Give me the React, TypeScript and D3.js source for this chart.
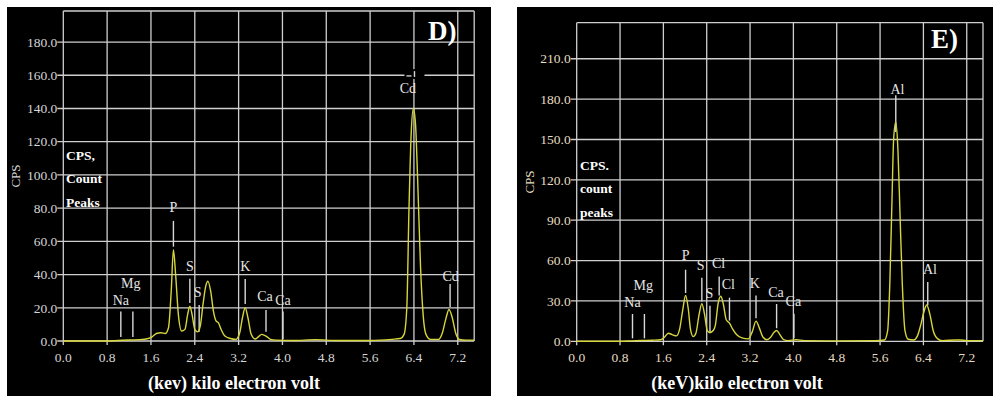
import React from 'react';
import * as d3 from 'd3';

// tick values shared by both spectra
const keVTicks = [0, 0.8, 1.6, 2.4, 3.2, 4.0, 4.8, 5.6, 6.4, 7.2];
const cpsTicksD = [0, 20, 40, 60, 80, 100, 120, 140, 160, 180];
const cpsTicksE = [0, 30, 60, 90, 120, 150, 180, 210];

// spectrum D
const energyD = [0, 0.8, 1.0, 1.2, 1.4, 1.55, 1.62, 1.7, 1.78, 1.86, 1.92, 1.97, 2.01, 2.05, 2.1, 2.16, 2.22, 2.27, 2.31, 2.35, 2.4, 2.45, 2.5, 2.55, 2.6, 2.64, 2.69, 2.74, 2.79, 2.83, 2.88, 2.95, 3.05, 3.15, 3.22, 3.27, 3.32, 3.37, 3.43, 3.5, 3.56, 3.62, 3.7, 3.78, 3.88, 4.2, 4.6, 5.0, 5.6, 6.0, 6.15, 6.22, 6.27, 6.31, 6.35, 6.39, 6.43, 6.47, 6.52, 6.57, 6.62, 6.7, 6.85, 6.92, 6.98, 7.04, 7.1, 7.16, 7.23, 7.35, 7.5];
const countsD = [0, 0, 0.3, 0.6, 0.8, 1.5, 2.5, 4.5, 5, 4.5, 8, 30, 55, 40, 16, 6, 7, 16, 21, 16, 7, 5.5, 9, 22, 33, 36, 30, 18, 12, 11, 7, 3, 1.5, 1, 5, 14, 20, 14, 4, 1.2, 2.5, 4, 3, 1, 0.5, 0.3, 0.8, 0.3, 0.3, 1, 1.5, 4, 20, 80, 125, 140, 130, 95, 45, 15, 4, 1, 1, 5, 13, 19, 14, 5, 1, 0.5, 0.5];

// spectrum E
const energyE = [0, 0.8, 1.0, 1.2, 1.4, 1.55, 1.62, 1.69, 1.76, 1.84, 1.9, 1.96, 2.01, 2.06, 2.1, 2.15, 2.2, 2.26, 2.31, 2.36, 2.41, 2.46, 2.52, 2.56, 2.61, 2.66, 2.71, 2.76, 2.82, 2.88, 2.95, 3.05, 3.17, 3.24, 3.31, 3.37, 3.44, 3.51, 3.58, 3.64, 3.69, 3.75, 3.82, 3.9, 4.05, 4.2, 4.8, 5.5, 5.68, 5.74, 5.78, 5.82, 5.85, 5.89, 5.93, 5.97, 6.01, 6.06, 6.12, 6.22, 6.29, 6.35, 6.41, 6.46, 6.52, 6.58, 6.66, 6.75, 7.0, 7.08, 7.2, 7.5];
const countsE = [0, 0, 0.3, 0.6, 0.8, 1.2, 3, 6, 5, 4, 9, 24, 34, 24, 9, 3.5, 6, 20, 28, 20, 8, 6.5, 8, 12, 28, 33.5, 27, 16, 13.5, 9, 5, 2.5, 1.8, 7, 15, 10, 3, 1.2, 3, 6.5, 8, 5, 1.2, 0.5, 1.2, 0.5, 0.3, 0.5, 1, 8, 43, 105, 150, 163, 142, 92, 43, 8, 1.5, 1, 4, 12, 22, 27, 20, 8, 2, 0.5, 1, 1, 0.5, 0.5];

// element markers: line energy, line top/bottom (CPS), label energy and label height (CPS)
const peaksD = [
  { el: 'Na', e: 1.05, top: 17.7, bottom: 2.4, le: 1.05, ly: 24.7 },
  { el: 'Mg', e: 1.27, top: 17.7, bottom: 2.4, le: 1.23, ly: 34.9 },
  { el: 'P', e: 2.01, top: 72.3, bottom: 56.8, le: 2.01, ly: 80.7 },
  { el: 'S', e: 2.31, top: 37.5, bottom: 22.9, le: 2.31, ly: 45.0 },
  { el: 'S', e: 2.48, top: 21.7, bottom: 5.6, le: 2.45, ly: 29.7 },
  { el: 'K', e: 3.32, top: 37.3, bottom: 22.3, le: 3.32, ly: 45.0 },
  { el: 'Ca', e: 3.70, top: 18.7, bottom: 5.6, le: 3.68, ly: 27.3 },
  { el: 'Ca', e: 4.01, top: 17.7, bottom: 1.0, le: 4.01, ly: 24.7 },
  { el: 'Cd', e: 6.41, top: 162.5, bottom: 159, le: 6.29, ly: 152.2, boxed: true },
  { el: 'Cd', e: 7.06, top: 34.3, bottom: 20.5, le: 7.07, ly: 38.8 },
];
const peaksE = [
  { el: 'Na', e: 1.03, top: 20.3, bottom: 2.2, le: 1.03, ly: 29.4 },
  { el: 'Mg', e: 1.25, top: 20.3, bottom: 2.2, le: 1.23, ly: 41.8 },
  { el: 'P', e: 2.01, top: 53.2, bottom: 35.9, le: 2.01, ly: 63.9 },
  { el: 'S', e: 2.31, top: 47.3, bottom: 29.5, le: 2.29, ly: 56.6 },
  { el: 'S', e: 2.46, top: 26.4, bottom: 5.9, le: 2.45, ly: 35.9 },
  { el: 'Cl', e: 2.63, top: 48.2, bottom: 34.1, le: 2.62, ly: 57.9 },
  { el: 'Cl', e: 2.82, top: 32.4, bottom: 15.4, le: 2.80, ly: 42.3 },
  { el: 'K', e: 3.31, top: 34.0, bottom: 17.2, le: 3.29, ly: 42.9 },
  { el: 'Ca', e: 3.69, top: 27.7, bottom: 9.7, le: 3.68, ly: 36.8 },
  { el: 'Ca', e: 4.01, top: 20.5, bottom: 2.2, le: 4.0, ly: 29.9 },
  { el: 'Al', e: 5.89, top: 182.8, bottom: 155.6, le: 5.92, ly: 187.8 },
  { el: 'Al', e: 6.48, top: 44.1, bottom: 26.8, le: 6.52, ly: 53.9 },
];

const notesD = ['CPS,', 'Count', 'Peaks'];
const notesE = ['CPS.', 'count', 'peaks'];

const serif = "'Liberation Serif', 'Times New Roman', serif";

type Peak = { el: string; e: number; top: number; bottom: number; le: number; ly: number; boxed?: boolean };

type PanelProps = {
  bg: { x0: number; x1: number; y0: number };
  plot: { left: number; right: number; top: number; bottom: number };
  yMax: number;
  yTicks: number[];
  energy: number[];
  counts: number[];
  peaks: Peak[];
  tag: string;
  tagX: number;
  tagY: number;
  notes: string[];
  notesX: number;
  notesY: number;
  xTitle: string;
  xTitleX: number;
  cpsX: number;
  cpsY: number;
  tickColor: string;
};

const Panel = (p: PanelProps) => {
  const x = d3.scaleLinear().domain([0, 7.5]).range([p.plot.left, p.plot.right]);
  const y = d3.scaleLinear().domain([0, p.yMax]).range([p.plot.bottom, p.plot.top]);
  const pts = p.energy.map((e, i) => [e, p.counts[i]] as [number, number]);
  const line = d3.line<[number, number]>()
    .x((d) => x(d[0]))
    .y((d) => y(d[1]))
    .curve(d3.curveMonotoneX);
  const grid = '#cfcfcf';

  return (
    <g>
      <rect x={p.bg.x0} y={p.bg.y0} width={p.bg.x1 - p.bg.x0} height={396 - p.bg.y0} fill="#000" />
      {/* horizontal grid + y ticks */}
      {p.yTicks.map((t) => (
        <line key={'h' + t} x1={p.plot.left - 6} x2={p.plot.right} y1={y(t)} y2={y(t)} stroke={grid} strokeWidth={1.3} />
      ))}
      <line x1={p.plot.left} x2={p.plot.right} y1={p.plot.top} y2={p.plot.top} stroke={grid} strokeWidth={1.3} />
      {/* vertical grid + x ticks */}
      {keVTicks.map((t) => (
        <line key={'v' + t} x1={x(t)} x2={x(t)} y1={p.plot.top} y2={p.plot.bottom + 4} stroke={grid} strokeWidth={1.3} />
      ))}
      <line x1={p.plot.right} x2={p.plot.right} y1={p.plot.top} y2={p.plot.bottom} stroke={grid} strokeWidth={1.3} />

      {p.yTicks.map((t) => (
        <text key={'yl' + t} x={p.plot.left - 6} y={y(t)} dy="0.35em" textAnchor="end"
          fontFamily={serif} fontSize={13.5} fill={p.tickColor}>{t.toFixed(1)}</text>
      ))}
      {keVTicks.map((t) => (
        <text key={'xl' + t} x={x(t)} y={p.plot.bottom + 21} textAnchor="middle"
          fontFamily={serif} fontSize={13.5} fill={p.tickColor}>{t.toFixed(1)}</text>
      ))}

      <text transform={`translate(${p.cpsX},${p.cpsY}) rotate(-90)`} textAnchor="middle" dy="0.35em"
        fontFamily={serif} fontSize={13} fill={p.tickColor}>CPS</text>

      {/* element markers */}
      {p.peaks.map((k, i) => (
        <g key={'pk' + i}>
          {k.boxed && (
            <rect x={x(k.e) - 10} y={y(k.top) - 2} width={20} height={y(k.bottom) - y(k.top) + 4} fill="#000" />
          )}
          {k.boxed && (
            <line x1={x(k.e) - 8} x2={x(k.e) - 3} y1={y(k.bottom) - 1} y2={y(k.bottom) - 1} stroke="#ddd" strokeWidth={1.3} />
          )}
          <line x1={x(k.e)} x2={x(k.e)} y1={y(k.top)} y2={y(k.bottom)} stroke="#d8d8d8" strokeWidth={1.4} />
          <text x={x(k.le)} y={y(k.ly)} dy="0.35em" textAnchor="middle" fontFamily={serif} fontSize={14} fill="#e4e4e4">{k.el}</text>
        </g>
      ))}

      <path d={line(pts) ?? ''} fill="none" stroke="#d6d63a" strokeWidth={1.4} />

      {p.notes.map((n, i) => (
        <text key={'n' + i} x={p.notesX} y={p.notesY + i * 23.5} dy="0.35em" fontFamily={serif}
          fontWeight="bold" fontSize={13.5} fill="#fff">{n}</text>
      ))}

      <text x={p.tagX} y={p.tagY} fontFamily={serif} fontWeight="bold" fontSize={27} fill="#fff">{p.tag}</text>
      <text x={p.xTitleX} y={389} textAnchor="middle" fontFamily={serif} fontWeight="bold" fontSize={18} fill="#fff">{p.xTitle}</text>
    </g>
  );
};

export default function App() {
  return (
    <svg width={993} height={396} style={{ position: 'absolute', left: 0, top: 0, background: '#fff' }}>
      <Panel
        bg={{ x0: 7, x1: 491, y0: 7 }}
        plot={{ left: 63.3, right: 474.2, top: 11, bottom: 341 }}
        yMax={198.7}
        yTicks={cpsTicksD}
        energy={energyD}
        counts={countsD}
        peaks={peaksD}
        tag="D)"
        tagX={428}
        tagY={40}
        notes={notesD}
        notesX={66}
        notesY={155}
        xTitle="(kev) kilo electron volt"
        xTitleX={234}
        cpsX={15}
        cpsY={176}
        tickColor="#d6d6d6"
      />
      <Panel
        bg={{ x0: 517, x1: 993, y0: 7 }}
        plot={{ left: 576.7, right: 983, top: 22.7, bottom: 341.3 }}
        yMax={236.8}
        yTicks={cpsTicksE}
        energy={energyE}
        counts={countsE}
        peaks={peaksE}
        tag="E)"
        tagX={931}
        tagY={48}
        notes={notesE}
        notesX={580}
        notesY={165}
        xTitle="(keV)kilo electron volt"
        xTitleX={737}
        cpsX={529}
        cpsY={182}
        tickColor="#e6dcc0"
      />
    </svg>
  );
}
